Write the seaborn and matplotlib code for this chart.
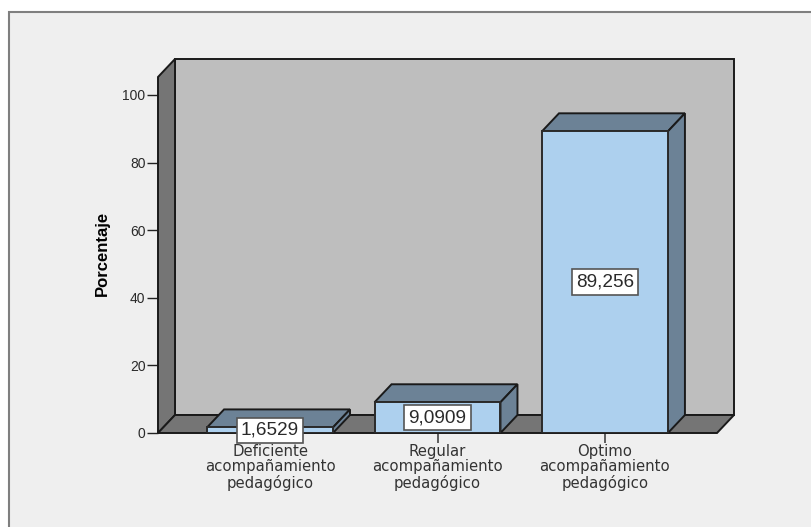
import pandas as pd
import matplotlib
matplotlib.use("Agg")
import matplotlib.pyplot as plt
import seaborn as sns

# values
categorias = ["Deficiente\nacompañamiento\npedagógico",
              "Regular\nacompañamiento\npedagógico",
              "Optimo\nacompañamiento\npedagógico"]
porcentajes = [1.6529, 9.0909, 89.256]
etiquetas = ["1,6529", "9,0909", "89,256"]
y_ticks = [0, 20, 40, 60, 80, 100]

W, H = 811, 527
dpi = 100
# depth of the fake 3D box, in pixels
dx_px, dy_px = 17, 18

sns.set_style("white")
plt.rcParams['font.family'] = ['Liberation Sans', 'DejaVu Sans']

fig = plt.figure(figsize=(W / dpi, H / dpi), dpi=dpi, facecolor="white")
# grey panel behind everything
fig.patches.append(plt.Rectangle((8.5 / W, -0.01), 1.1, 1 - 11.5 / H + 0.01, transform=fig.transFigure,
                                 facecolor="#EFEFEF", edgecolor="#7F7F7F", linewidth=1.5, zorder=-5))

# front plane of the box
left, right, bottom, top = 158, 717, 433, 77
ax = fig.add_axes([left / W, 1 - bottom / H, (right - left) / W, (bottom - top) / H])
ax.patch.set_alpha(0)

df = pd.DataFrame({"categoria": categorias, "porcentaje": porcentajes})
sns.barplot(data=df, x="categoria", y="porcentaje", color="#ADD0EE", saturation=1, width=0.752,
            edgecolor="#2A2A2A", linewidth=1.4, ax=ax, zorder=5)

ax.set_xlim(-0.669, 2.669)
ax.set_ylim(0, (bottom - top) / 3.38)
dx = dx_px * (ax.get_xlim()[1] - ax.get_xlim()[0]) / (right - left)
dy = dy_px * ax.get_ylim()[1] / (bottom - top)
x0, x1 = ax.get_xlim()
y1 = ax.get_ylim()[1]

barras = list(ax.patches)
linea = dict(edgecolor="#1A1A1A", linewidth=1.4, clip_on=False)
# back wall, left wall, floor
ax.fill([x0 + dx, x1 + dx, x1 + dx, x0 + dx], [dy, dy, y1 + dy, y1 + dy], facecolor="#BEBEBE", zorder=1, **linea)
ax.fill([x0, x0 + dx, x0 + dx, x0], [0, dy, y1 + dy, y1], facecolor="#757575", zorder=2, **linea)
ax.fill([x0, x1, x1 + dx, x0 + dx], [0, 0, dy, dy], facecolor="#757575", zorder=2, **linea)

# top and side of every bar, taken from the bars seaborn drew
for barra, etiqueta in zip(barras, etiquetas):
    xa, xb = barra.get_x(), barra.get_x() + barra.get_width()
    h = barra.get_height()
    ax.fill([xa, xb, xb + dx, xa + dx], [h, h, h + dy, h + dy], facecolor="#6C8296", zorder=4, **linea)
    ax.fill([xb, xb + dx, xb + dx, xb], [0, dy, h + dy, h], facecolor="#6C8296", zorder=4, **linea)
    ax.text((xa + xb) / 2, h / 2, etiqueta, ha="center", va="center", fontsize=13.7, color="#2A2A2A", zorder=8,
            clip_on=False, bbox=dict(boxstyle="square,pad=0.22", facecolor="white", edgecolor="#555555", linewidth=1.2))

sns.despine(ax=ax, left=True, bottom=True, top=True, right=True)
ax.set_yticks(y_ticks)
ax.tick_params(axis="y", length=8, width=1.0, color="#222222", left=True, pad=1, labelsize=10, labelcolor="#2A2A2A")
ax.tick_params(axis="x", length=7, width=1.2, color="#444444", bottom=True, pad=1)
for t in ax.get_xticklabels():
    t.set_fontfamily("DejaVu Sans")
    t.set_fontsize(10.7)
    t.set_color("#333333")
    t.set_linespacing(1.02)
ax.set_xlabel("")
ax.set_ylabel("Porcentaje", fontweight="bold", fontsize=12, color="black", labelpad=9, y=0.503)

fig.savefig("out.png", dpi=dpi, facecolor=fig.get_facecolor())
